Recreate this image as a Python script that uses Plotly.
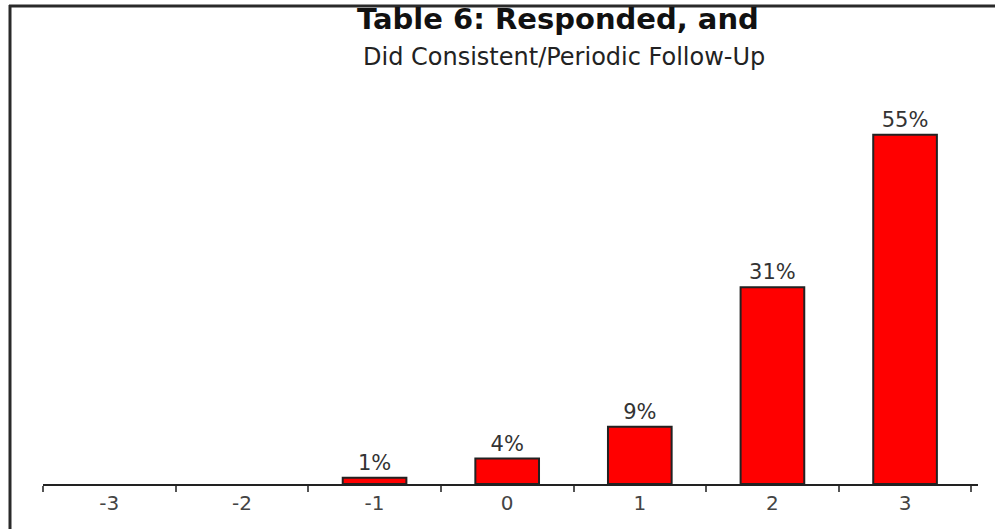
import plotly.graph_objects as go

# Survey scores and the share of respondents at each score
scores = ["-3", "-2", "-1", "0", "1", "2", "3"]
shares = [0, 0, 1, 4, 9, 31, 55]
share_labels = ["", "", "1%", "4%", "9%", "31%", "55%"]

title_main = "Table 6: Responded, and"
title_sub = "Did Consistent/Periodic Follow-Up"

W, H = 995, 529
L, R, T, B = 43, 17, 100, 45
pw, ph = W - L - R, H - T - B


def px_x(x):
    return (x - L) / pw


def px_y(y):
    return (H - B - y) / ph


# empty scores get no outline so nothing is drawn on the axis
outline_widths = [2 if v > 0 else 0 for v in shares]

fig = go.Figure(
    go.Bar(
        x=scores,
        y=shares,
        text=share_labels,
        textposition="outside",
        textfont=dict(family="DejaVu Sans", size=21, color="#333333"),
        cliponaxis=False,
        width=0.48,
        marker=dict(color="#ff0000", line=dict(color="#222222", width=outline_widths)),
        hoverinfo="skip",
    )
)

fig.update_layout(
    width=W,
    height=H,
    margin=dict(l=L, r=R, t=T, b=B),
    paper_bgcolor="white",
    plot_bgcolor="white",
    showlegend=False,
    xaxis=dict(
        type="category",
        range=[-0.5, 6.55],
        tickson="boundaries",
        ticks="outside",
        ticklen=6,
        tickwidth=2,
        tickcolor="#555555",
        showline=True,
        linecolor="#222222",
        linewidth=2,
        showgrid=False,
        tickfont=dict(family="DejaVu Sans", size=20, color="#444444"),
        fixedrange=True,
    ),
    yaxis=dict(
        range=[0, ph / 6.35],
        visible=False,
        fixedrange=True,
    ),
    annotations=[
        dict(
            text="<b>" + title_main + "</b>",
            xref="paper", yref="paper",
            x=px_x(558), y=px_y(19),
            xanchor="center", yanchor="middle",
            showarrow=False,
            font=dict(family="DejaVu Sans", size=29, color="#111111", weight=900),
        ),
        dict(
            text=title_sub,
            xref="paper", yref="paper",
            x=px_x(564), y=px_y(57),
            xanchor="center", yanchor="middle",
            showarrow=False,
            font=dict(family="DejaVu Sans", size=24, color="#222222"),
        ),
    ],
    shapes=[
        # frame: top rule and left rule
        dict(type="line", xref="paper", yref="paper",
             x0=px_x(9), x1=px_x(W + 2), y0=px_y(6), y1=px_y(6),
             line=dict(color="#2a2a2a", width=3)),
        dict(type="line", xref="paper", yref="paper",
             x0=px_x(10), x1=px_x(10), y0=px_y(5), y1=px_y(H + 2),
             line=dict(color="#2a2a2a", width=3)),
    ],
)

fig.write_html("out.html")
